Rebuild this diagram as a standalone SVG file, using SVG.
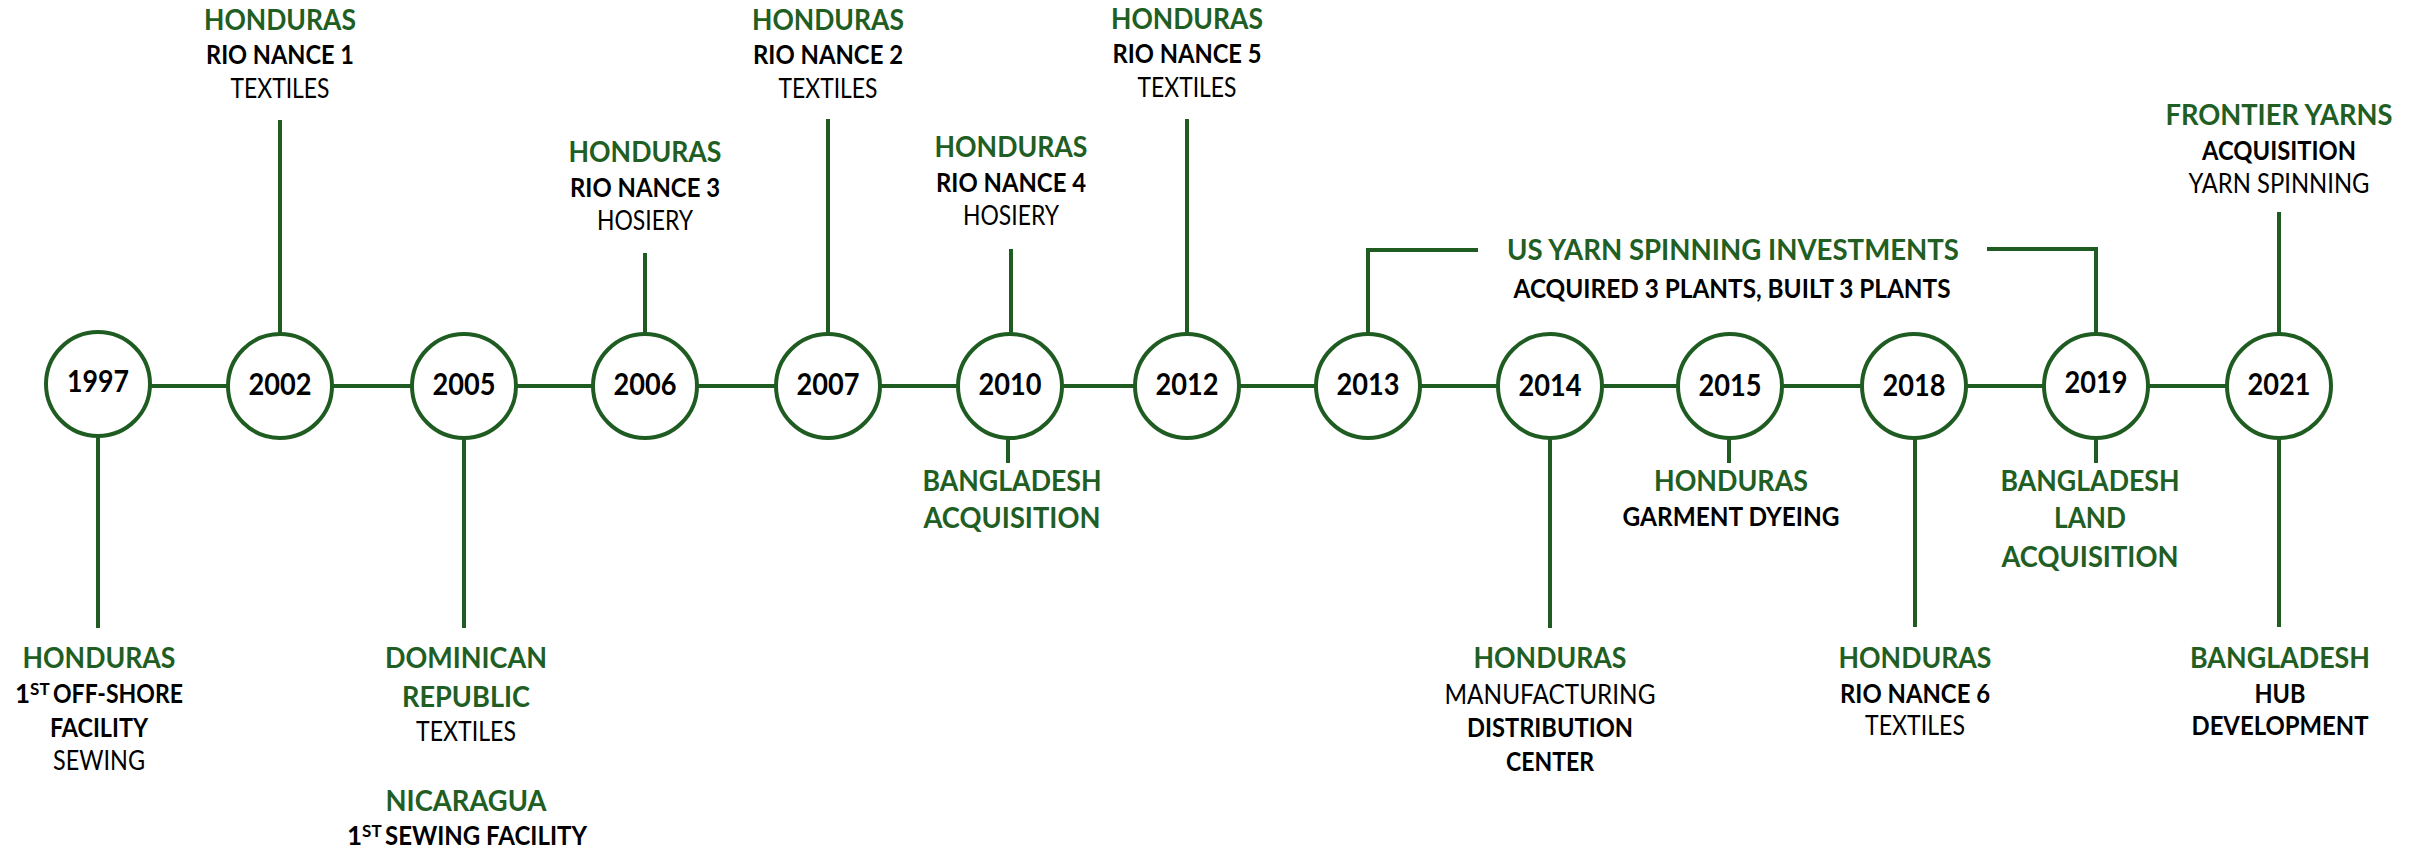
<svg xmlns="http://www.w3.org/2000/svg" width="2417" height="849" viewBox="0 0 2417 849">
<style>
text{font-family:Lato,"Open Sans","Liberation Sans",sans-serif;text-anchor:middle}
.g{font-weight:bold;font-size:28.5px;fill:#215E23}
.b{font-weight:bold;font-size:26px;fill:#000}
.r{font-weight:normal;font-size:26px;fill:#000}
.y{font-weight:bold;font-size:29.5px;fill:#000}
.s{font-weight:bold;font-size:17px;fill:#000}
.st{text-anchor:start}
.node circle{fill:#fff;stroke:#1F5C22;stroke-width:4}
#connectors path,#connectors line{stroke:#1F5C22;stroke-width:4;fill:none}
</style>
<rect width="2417" height="849" fill="#fff"/>
<g id="connectors">
<line x1="98" y1="386" x2="2279" y2="386"/>
<line x1="280" y1="120" x2="280" y2="333"/>
<line x1="645" y1="253" x2="645" y2="333"/>
<line x1="828" y1="119" x2="828" y2="333"/>
<line x1="1011" y1="249" x2="1011" y2="333"/>
<line x1="1187" y1="119" x2="1187" y2="333"/>
<path d="M1368 333V250H1478"/>
<path d="M1987 249H2096V333"/>
<line x1="2279" y1="212" x2="2279" y2="333"/>
<line x1="98" y1="437" x2="98" y2="628"/>
<line x1="464" y1="437" x2="464" y2="628"/>
<line x1="1008" y1="437" x2="1008" y2="463"/>
<line x1="1550" y1="437" x2="1550" y2="628"/>
<line x1="1729" y1="437" x2="1729" y2="463"/>
<line x1="1915" y1="437" x2="1915" y2="627"/>
<line x1="2096" y1="437" x2="2096" y2="463"/>
<line x1="2279" y1="437" x2="2279" y2="627"/>
</g>
<g id="n1997" class="node"><circle cx="98" cy="384" r="52"/><text class="y" x="98" y="392" textLength="62" lengthAdjust="spacingAndGlyphs">1997</text>
<text class="g" x="99" y="668" textLength="153" lengthAdjust="spacingAndGlyphs">HONDURAS</text>
<text class="b st" x="15" y="703">1<tspan class="s" dy="-8">ST </tspan><tspan x="53" dy="8" textLength="130" lengthAdjust="spacingAndGlyphs">OFF-SHORE</tspan></text>
<text class="b" x="99" y="737" textLength="98" lengthAdjust="spacingAndGlyphs">FACILITY</text>
<text class="r" x="99" y="770" textLength="92" lengthAdjust="spacingAndGlyphs">SEWING</text></g>
<g id="n2002" class="node"><circle cx="280" cy="386" r="52"/><text class="y" x="280" y="395" textLength="63" lengthAdjust="spacingAndGlyphs">2002</text>
<text class="g" x="280" y="30" textLength="152" lengthAdjust="spacingAndGlyphs">HONDURAS</text>
<text class="b" x="280" y="64" textLength="148" lengthAdjust="spacingAndGlyphs">RIO NANCE 1</text>
<text class="r" x="280" y="98" textLength="99" lengthAdjust="spacingAndGlyphs">TEXTILES</text></g>
<g id="n2005" class="node"><circle cx="464" cy="386" r="52"/><text class="y" x="464" y="395" textLength="63" lengthAdjust="spacingAndGlyphs">2005</text>
<text class="g" x="466" y="668" textLength="162" lengthAdjust="spacingAndGlyphs">DOMINICAN</text>
<text class="g" x="466" y="707" textLength="128" lengthAdjust="spacingAndGlyphs">REPUBLIC</text>
<text class="r" x="466" y="741" textLength="100" lengthAdjust="spacingAndGlyphs">TEXTILES</text>
<text class="g" x="466" y="811" textLength="161" lengthAdjust="spacingAndGlyphs">NICARAGUA</text>
<text class="b st" x="347" y="845">1<tspan class="s" dy="-8">ST </tspan><tspan x="385" dy="8" textLength="202" lengthAdjust="spacingAndGlyphs">SEWING FACILITY</tspan></text></g>
<g id="n2006" class="node"><circle cx="645" cy="386" r="52"/><text class="y" x="645" y="395" textLength="63" lengthAdjust="spacingAndGlyphs">2006</text>
<text class="g" x="645" y="162" textLength="153" lengthAdjust="spacingAndGlyphs">HONDURAS</text>
<text class="b" x="645" y="197" textLength="150" lengthAdjust="spacingAndGlyphs">RIO NANCE 3</text>
<text class="r" x="645" y="230" textLength="96" lengthAdjust="spacingAndGlyphs">HOSIERY</text></g>
<g id="n2007" class="node"><circle cx="828" cy="386" r="52"/><text class="y" x="828" y="395" textLength="63" lengthAdjust="spacingAndGlyphs">2007</text>
<text class="g" x="828" y="30" textLength="152" lengthAdjust="spacingAndGlyphs">HONDURAS</text>
<text class="b" x="828" y="64" textLength="150" lengthAdjust="spacingAndGlyphs">RIO NANCE 2</text>
<text class="r" x="828" y="98" textLength="99" lengthAdjust="spacingAndGlyphs">TEXTILES</text></g>
<g id="n2010" class="node"><circle cx="1010" cy="386" r="52"/><text class="y" x="1010" y="395" textLength="63" lengthAdjust="spacingAndGlyphs">2010</text>
<text class="g" x="1011" y="157" textLength="153" lengthAdjust="spacingAndGlyphs">HONDURAS</text>
<text class="b" x="1011" y="192" textLength="150" lengthAdjust="spacingAndGlyphs">RIO NANCE 4</text>
<text class="r" x="1011" y="225" textLength="96" lengthAdjust="spacingAndGlyphs">HOSIERY</text>
<text class="g" x="1012" y="491" textLength="179" lengthAdjust="spacingAndGlyphs">BANGLADESH</text>
<text class="g" x="1012" y="528" textLength="177" lengthAdjust="spacingAndGlyphs">ACQUISITION</text></g>
<g id="n2012" class="node"><circle cx="1187" cy="386" r="52"/><text class="y" x="1187" y="395" textLength="63" lengthAdjust="spacingAndGlyphs">2012</text>
<text class="g" x="1187" y="29" textLength="152" lengthAdjust="spacingAndGlyphs">HONDURAS</text>
<text class="b" x="1187" y="63" textLength="149" lengthAdjust="spacingAndGlyphs">RIO NANCE 5</text>
<text class="r" x="1187" y="97" textLength="99" lengthAdjust="spacingAndGlyphs">TEXTILES</text></g>
<g id="n2013" class="node"><circle cx="1368" cy="386" r="52"/><text class="y" x="1368" y="395" textLength="63" lengthAdjust="spacingAndGlyphs">2013</text>
<text class="g" x="1733" y="260" textLength="452" lengthAdjust="spacingAndGlyphs">US YARN SPINNING INVESTMENTS</text>
<text class="b" x="1732" y="298" textLength="437" lengthAdjust="spacingAndGlyphs">ACQUIRED 3 PLANTS, BUILT 3 PLANTS</text></g>
<g id="n2014" class="node"><circle cx="1550" cy="386" r="52"/><text class="y" x="1550" y="396" textLength="63" lengthAdjust="spacingAndGlyphs">2014</text>
<text class="g" x="1550" y="668" textLength="153" lengthAdjust="spacingAndGlyphs">HONDURAS</text>
<text class="r" x="1550" y="704" textLength="211" lengthAdjust="spacingAndGlyphs">MANUFACTURING</text>
<text class="b" x="1550" y="737" textLength="166" lengthAdjust="spacingAndGlyphs">DISTRIBUTION</text>
<text class="b" x="1550" y="771" textLength="88" lengthAdjust="spacingAndGlyphs">CENTER</text></g>
<g id="n2015" class="node"><circle cx="1730" cy="386" r="52"/><text class="y" x="1730" y="396" textLength="63" lengthAdjust="spacingAndGlyphs">2015</text>
<text class="g" x="1731" y="491" textLength="154" lengthAdjust="spacingAndGlyphs">HONDURAS</text>
<text class="b" x="1731" y="526" textLength="217" lengthAdjust="spacingAndGlyphs">GARMENT DYEING</text></g>
<g id="n2018" class="node"><circle cx="1914" cy="386" r="52"/><text class="y" x="1914" y="396" textLength="63" lengthAdjust="spacingAndGlyphs">2018</text>
<text class="g" x="1915" y="668" textLength="153" lengthAdjust="spacingAndGlyphs">HONDURAS</text>
<text class="b" x="1915" y="703" textLength="150" lengthAdjust="spacingAndGlyphs">RIO NANCE 6</text>
<text class="r" x="1915" y="735" textLength="100" lengthAdjust="spacingAndGlyphs">TEXTILES</text></g>
<g id="n2019" class="node"><circle cx="2096" cy="386" r="52"/><text class="y" x="2096" y="393" textLength="63" lengthAdjust="spacingAndGlyphs">2019</text>
<text class="g" x="2090" y="491" textLength="179" lengthAdjust="spacingAndGlyphs">BANGLADESH</text>
<text class="g" x="2090" y="528" textLength="72" lengthAdjust="spacingAndGlyphs">LAND</text>
<text class="g" x="2090" y="567" textLength="177" lengthAdjust="spacingAndGlyphs">ACQUISITION</text></g>
<g id="n2021" class="node"><circle cx="2279" cy="386" r="52"/><text class="y" x="2279" y="395" textLength="63" lengthAdjust="spacingAndGlyphs">2021</text>
<text class="g" x="2279" y="125" textLength="227" lengthAdjust="spacingAndGlyphs">FRONTIER YARNS</text>
<text class="b" x="2279" y="160" textLength="154" lengthAdjust="spacingAndGlyphs">ACQUISITION</text>
<text class="r" x="2279" y="193" textLength="181" lengthAdjust="spacingAndGlyphs">YARN SPINNING</text>
<text class="g" x="2280" y="668" textLength="180" lengthAdjust="spacingAndGlyphs">BANGLADESH</text>
<text class="b" x="2280" y="703" textLength="51" lengthAdjust="spacingAndGlyphs">HUB</text>
<text class="b" x="2280" y="735" textLength="177" lengthAdjust="spacingAndGlyphs">DEVELOPMENT</text></g>
</svg>
